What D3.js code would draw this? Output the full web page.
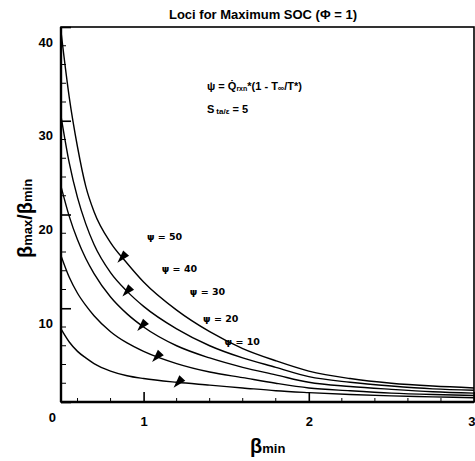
<!DOCTYPE html>
<html>
<head>
<meta charset="utf-8">
<script src="https://cdn.jsdelivr.net/npm/d3@7"></script>
<style>
  body { margin: 0; background: #fff; }
  svg { -webkit-font-smoothing: antialiased; }
  text { font-family: "Liberation Sans", Arial, sans-serif; font-weight: bold; fill: #000; }
</style>
</head>
<body>
<div id="chart"></div>
<script>
// values
const betaMin = [0.5, 0.55, 0.6, 0.65, 0.7, 0.8, 0.9, 1.0, 1.2, 1.4, 1.6, 1.8, 2.0, 2.25, 2.5, 2.75, 3.0];
const psiLevels = [50, 40, 30, 20, 10];
const ratio50 = [39.5, 32.5, 27.2, 23.0, 20.3, 17.0, 14.8, 12.8, 9.8, 7.5, 5.7, 4.4, 3.3, 2.5, 2.0, 1.7, 1.5];
const ratio40 = [30.5, 25.5, 21.8, 19.0, 16.8, 13.8, 11.8, 10.2, 7.8, 6.0, 4.7, 3.7, 2.7, 2.1, 1.7, 1.4, 1.25];
const ratio30 = [23.0, 19.8, 17.3, 15.3, 13.7, 11.2, 9.4, 8.0, 6.0, 4.7, 3.7, 2.9, 2.1, 1.65, 1.35, 1.1, 0.95];
const ratio20 = [15.6, 13.3, 11.6, 10.3, 9.2, 7.5, 6.3, 5.4, 4.1, 3.2, 2.6, 2.0, 1.5, 1.2, 0.95, 0.8, 0.7];
const ratio10 = [7.8, 6.4, 5.4, 4.7, 4.1, 3.3, 2.8, 2.5, 2.1, 1.8, 1.5, 1.2, 1.0, 0.8, 0.65, 0.55, 0.45];
const arrowAt = [0.87, 0.9, 0.99, 1.08, 1.21];       // beta_min where each arrowhead sits
const xTicks = [1, 2, 3];
const yTicks = [0, 10, 20, 30, 40];

const series = [ratio50, ratio40, ratio30, ratio20, ratio10];

const W = 475, H = 461;
const svg = d3.select("#chart").append("svg")
  .attr("width", W).attr("height", H);

const x = d3.scaleLinear().domain([0.5, 3]).range([61, 474]);
const y = d3.scaleLinear().domain([0, 40]).range([402, 27]);

// title
svg.append("text")
  .attr("x", 263).attr("y", 19)
  .attr("text-anchor", "middle")
  .attr("font-size", 13)
  .text("Loci for Maximum SOC (Φ = 1)");

// formula lines
const f1 = svg.append("text").attr("x", 207).attr("y", 90).attr("font-size", 11);
f1.append("tspan").text("ψ = Q̇");
f1.append("tspan").attr("font-size", 7).attr("dy", 1).text("rxn");
f1.append("tspan").attr("dy", -1).text("*(1 - T");
f1.append("tspan").attr("font-size", 9).attr("dy", 1).text("∞");
f1.append("tspan").attr("dy", -1).text("/T*)");

const f2 = svg.append("text").attr("x", 207).attr("y", 113).attr("font-size", 11);
f2.append("tspan").text("S");
f2.append("tspan").attr("font-size", 8).attr("dx", 2).attr("dy", 1).text("ta/ε");
f2.append("tspan").attr("dy", -1).text(" = 5");

// frame
svg.append("rect")
  .attr("x", x(0.5)).attr("y", y(40))
  .attr("width", x(3) - x(0.5)).attr("height", y(0) - y(40))
  .attr("fill", "none").attr("stroke", "#000").attr("stroke-width", 1.6);
svg.append("line")
  .attr("x1", x(0.5)).attr("x2", x(0.5)).attr("y1", y(40)).attr("y2", y(0))
  .attr("stroke", "#000").attr("stroke-width", 2.4);
svg.append("line")
  .attr("x1", x(0.5)).attr("x2", x(3)).attr("y1", y(0)).attr("y2", y(0))
  .attr("stroke", "#000").attr("stroke-width", 2.4);

// axes (ticks pointing inward)
const xAxis = svg.append("g")
  .attr("transform", `translate(0,${y(0)})`)
  .call(d3.axisBottom(x).tickValues(xTicks).tickSize(-10).tickPadding(15).tickFormat(d3.format("d")));
xAxis.select(".domain").remove();
xAxis.selectAll("line").attr("stroke-width", 1.6);
xAxis.selectAll("text").attr("font-size", 13).attr("font-family", null)
  .attr("text-anchor", d => d === 3 ? "end" : "middle")
  .attr("x", d => d === 3 ? 1 : 0);

const yAxis = svg.append("g")
  .attr("transform", `translate(${x(0.5)},0)`)
  .call(d3.axisLeft(y).tickValues(yTicks).tickSize(-10).tickPadding(8).tickFormat(d3.format("d")));
yAxis.select(".domain").remove();
yAxis.selectAll("line").attr("stroke-width", 1.6);
yAxis.selectAll("text").attr("font-size", 13).attr("font-family", null).attr("y", 15)
  .attr("dx", d => d === 0 ? 3 : 0);

// minor ticks
const xMinor = d3.range(0.6, 2.95, 0.2).filter(v => Math.abs(v - Math.round(v)) > 0.05);
svg.append("g").selectAll("line").data(xMinor).join("line")
  .attr("x1", d => x(d)).attr("x2", d => x(d))
  .attr("y1", y(0)).attr("y2", y(0) - 4)
  .attr("stroke", "#000").attr("stroke-width", 1);
const yMinor = d3.range(2, 40, 2).filter(v => v % 10 !== 0);
svg.append("g").selectAll("line").data(yMinor).join("line")
  .attr("x1", x(0.5)).attr("x2", x(0.5) + 5)
  .attr("y1", d => y(d)).attr("y2", d => y(d))
  .attr("stroke", "#000").attr("stroke-width", 1);

// curves
const line = d3.line()
  .x(d => x(d[0]))
  .y(d => y(d[1]))
  .curve(d3.curveMonotoneX);

const paths = svg.append("g").selectAll("path")
  .data(series.map(s => betaMin.map((b, i) => [b, s[i]])))
  .join("path")
  .attr("d", line)
  .attr("fill", "none")
  .attr("stroke", "#000")
  .attr("stroke-width", 1.4);

// arrowheads, found on each drawn curve
function pointAtX(node, px) {
  let lo = 0, hi = node.getTotalLength();
  for (let k = 0; k < 40; k++) {
    const mid = (lo + hi) / 2;
    if (node.getPointAtLength(mid).x < px) lo = mid; else hi = mid;
  }
  return node.getPointAtLength((lo + hi) / 2);
}

const ux = -10 / Math.hypot(10, 11), uy = 11 / Math.hypot(10, 11);
paths.each(function (d, i) {
  const c = pointAtX(this, x(arrowAt[i]));
  const tip = [c.x + ux * 7, c.y + uy * 7];
  const bc = [c.x - ux * 6, c.y - uy * 6];
  const nx = -uy, ny = ux;
  const pts = [tip, [bc[0] + nx * 4, bc[1] + ny * 4], [bc[0] - nx * 4, bc[1] - ny * 4]];
  svg.append("path")
    .attr("d", "M" + pts.map(p => p.join(",")).join("L") + "Z")
    .attr("fill", "#000");
});

// psi labels
const labelPos = [[1.02, 17.6], [1.11, 14.2], [1.28, 11.8], [1.36, 8.85], [1.49, 6.4]];
svg.append("g").selectAll("text")
  .data(psiLevels)
  .join("text")
  .attr("x", (d, i) => x(labelPos[i][0]))
  .attr("y", (d, i) => y(labelPos[i][1]))
  .attr("dy", "0.35em")
  .attr("font-size", 9.5)
  .style("font-family", "'DejaVu Sans', sans-serif")
  .style("fill", "#000")
  .text(d => `ψ = ${d}`);

// axis titles
const xt = svg.append("text").attr("x", 250).attr("y", 453).attr("font-size", 20).attr("font-weight", "normal");
xt.append("tspan").text("β");
xt.append("tspan").attr("font-size", 13).attr("font-weight", "bold").text("min");

const yt = svg.append("text")
  .attr("transform", "translate(32,258) rotate(-90)")
  .attr("font-size", 20).attr("font-weight", "normal");
yt.append("tspan").text("β");
yt.append("tspan").attr("font-size", 13).attr("font-weight", "bold").text("max");
yt.append("tspan").text("/β");
yt.append("tspan").attr("font-size", 13).attr("font-weight", "bold").text("min");
</script>
</body>
</html>
